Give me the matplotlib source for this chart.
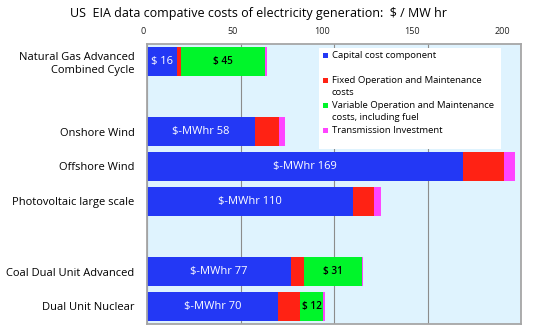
import matplotlib.pyplot as plt
from matplotlib.patches import Rectangle
from matplotlib.transforms import ScaledTranslation

plt.rcParams['font.family'] = ['Open Sans', 'DejaVu Sans']

# US EIA levelised cost components, $ / MWh
technologies = ["Natural Gas Advanced\nCombined Cycle", "Onshore Wind", "Offshore Wind",
                "Photovoltaic large scale", "Coal Dual Unit Advanced", "Dual Unit Nuclear"]
capital = [16, 58, 169, 110, 77, 70]
fixed_om = [2, 12.7, 22, 11.5, 6.8, 12]
variable_om = [45, 0, 0, 0, 31, 12]
transmission = [1.2, 3.3, 6, 3.7, 0.8, 1]

capital_prefix = ["$ ", "$-MWhr ", "$-MWhr ", "$-MWhr ", "$-MWhr ", "$-MWhr "]
components = ["Capital cost component",
              "Fixed Operation and Maintenance\ncosts",
              "Variable Operation and Maintenance\ncosts, including fuel",
              "Transmission Investment"]
colors = ['#2338f5', '#ff2214', '#00f52a', '#ff44ff']
xticks = [0, 50, 100, 150, 200]

rows = [0, 2, 3, 4, 6, 7]  # empty slots after gas and after solar

fig = plt.figure(figsize=(5.4, 3.31), dpi=100)
ax = fig.add_axes([147 / 540, 7 / 331, 374 / 540, 280 / 331])
ax.set_facecolor('#dff3fe')

left = [0] * len(rows)
for vals, c in zip([capital, fixed_om, variable_om, transmission], colors):
    ax.barh(rows, vals, left=left, height=0.84, color=c, zorder=2)
    left = [a + b for a, b in zip(left, vals)]

for r, cap, pre in zip(rows, capital, capital_prefix):
    ax.text(cap / 2, r, f"{pre}{cap:g}", color='white', ha='center', va='center',
            fontsize=8, zorder=3)
for r, cap, fx, var in zip(rows, capital, fixed_om, variable_om):
    if var > 0:
        ax.text(cap + fx + var / 2, r, f"$ {var:g}", color='black', ha='center',
                va='center', fontsize=7.2, fontweight='semibold', zorder=3)

ax.set_xlim(0, 200)
ax.set_ylim(7.5, -0.5)
ax.xaxis.tick_top()
ax.set_xticks(xticks)
ax.set_yticks(rows, technologies)
ax.tick_params(axis='x', length=0, pad=6, labelsize=6.5, colors='#222222')
ax.tick_params(axis='y', length=0, pad=9, labelsize=8)
for lab in ax.get_yticklabels():
    lab.set_linespacing(1.3)
ax.grid(axis='x', color='#8c8c8c', lw=0.8, zorder=0)
ax.set_axisbelow(True)
for sp in ax.spines.values():
    sp.set_color('#a6a6a6')
    sp.set_linewidth(1.3)

# top tick labels sit slightly left of their gridlines
for v, tick in zip(xticks, ax.xaxis.get_major_ticks()):
    shift = -(4 + 0.075 * v) / 100
    tick.label2.set_transform(tick.label2.get_transform()
                              + ScaledTranslation(shift, 0, fig.dpi_scale_trans))

# legend box, one text per line so the swatch lines up with the first line
ax.add_patch(Rectangle((0.46, 0.625), 0.487, 0.361, transform=ax.transAxes,
                       facecolor='white', edgecolor='none', zorder=4))
line_step = 11.5 / 280
for i, (name, c) in enumerate(zip(components, colors)):
    y = 0.958 - i * 0.0895
    ax.add_patch(Rectangle((0.471, y - 0.008), 0.0135, 0.019, transform=ax.transAxes,
                           facecolor=c, edgecolor='none', zorder=5))
    for k, line in enumerate(name.split('\n')):
        ax.text(0.494, y - k * line_step, line, transform=ax.transAxes, va='center',
                ha='left', fontsize=6.8, zorder=5)

fig.text(0.478, 0.96, "US  EIA data compative costs of electricity generation:  $ / MW hr",
         ha='center', va='center', fontsize=9)

fig.savefig('out.png', dpi=100)
